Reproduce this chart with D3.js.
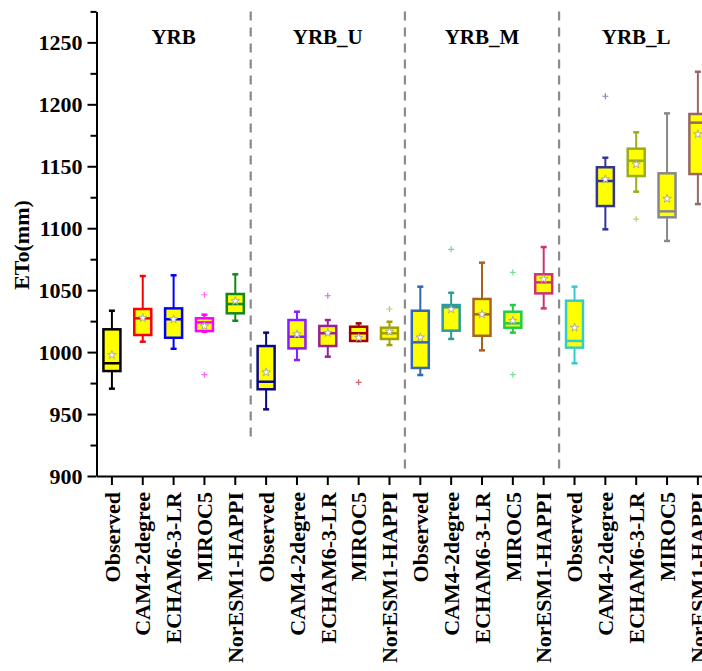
<!DOCTYPE html>
<html>
<head>
<meta charset="utf-8">
<script src="https://cdn.jsdelivr.net/npm/d3@7"></script>
<style>
    body { margin: 0; background: #fff; overflow: hidden; }
    svg { display: block; }
    svg text { font-family: "Liberation Serif", "Times New Roman", Times, "DejaVu Serif", serif !important; font-weight: bold; fill: #000; }
</style>
</head>
<body>
<svg id="chart" width="702" height="671"></svg>
<script>
// regions and models
const groups = ["YRB", "YRB_U", "YRB_M", "YRB_L"]
const models = ["Observed", "CAM4-2degree", "ECHAM6-3-LR", "MIROC5", "NorESM1-HAPPI"]

// box stats, 20 boxes in order group by group
const whiskerLow  = [970.5, 1008.4, 1002.7, 1016.5, 1025.3,  953.8, 993.6, 996.3, 1009, 1005.7,  981.5, 1010.6, 1001.4, 1015.7, 1035.3,  991, 1099.1, 1129.5, 1089.7, 1119.5]
const q1          = [984.7, 1013.8, 1011.6, 1017, 1031.3,  970, 1003, 1004.9, 1009, 1010.6,  987.2, 1017.3, 1013.2, 1019.7, 1047.4,  1003.6, 1117.9, 1142.1, 1108.8, 1143.7]
const median      = [991, 1027.3, 1026.5, 1024, 1038.8,  976.1, 1012.4, 1015.2, 1015.2, 1015.2,  1007.9, 1036.2, 1030.5, 1023.2, 1056.3,  1009, 1138.1, 1154.5, 1113.6, 1185.2]
const q3          = [1018.4, 1034.8, 1035.3, 1027.3, 1046.9,  1004.9, 1025.9, 1021.1, 1020.5, 1019.7,  1033.4, 1038, 1042.9, 1032.6, 1062.8,  1041.5, 1149.2, 1164.2, 1144.3, 1192.2]
const whiskerHigh = [1033.4, 1061.4, 1062, 1030.2, 1062.8,  1015.7, 1032.6, 1025.9, 1023.2, 1024.5,  1052.8, 1047.9, 1072.2, 1038, 1084.8,  1052.8, 1156.9, 1177.4, 1192.7, 1226.3]
const meanValue   = [997.7, 1027.5, 1026.5, 1021, 1041.2,  983.7, 1014.4, 1015.5, 1011.6, 1016.5,  1011.9, 1034.5, 1030.5, 1025.3, 1059,  1019.7, 1139.5, 1151.6, 1123.8, 1175.8]
const outliers    = [[], [], [], [1046.3, 981.8], [],  [], [], [1045.5], [975.6], [1034.8],  [], [1083], [], [1064.4, 981.8], [],  [], [1206.5], [1107.4], [], []]
const boxColors   = ["#000000", "#ff0000", "#0000ff", "#ff00ff", "#11881a",
                     "#0a0a80", "#8a1aff", "#992299", "#a00000", "#a0a000",
                     "#3366b3", "#2e9a9a", "#a8641e", "#22cc44", "#cc3377",
                     "#33cccc", "#333399", "#9aad1a", "#888888", "#996666"]
// bottom value of each dashed separator
const separatorEnd = [927, 902, 902]

const yTicks = d3.range(900, 1276, 25)

const svg = d3.select("#chart")
const keys = []
groups.forEach(g => models.forEach(m => keys.push(g + "|" + m)))

const step = 30.84
const x = d3.scaleBand().domain(keys).range([96.5, 96.5 + step * keys.length]).padding(0)
const y = d3.scaleLinear().domain([900, 1275]).range([476, 11.4])
const boxWidth = 17
const capWidth = 6
const cx = i => x(keys[i]) + x.bandwidth() / 2

// dashed separators between regions
svg.append("g")
    .selectAll("line")
    .data(separatorEnd)
    .enter()
    .append("line")
    .attr("x1", (d, i) => x(keys[(i + 1) * 5]))
    .attr("x2", (d, i) => x(keys[(i + 1) * 5]))
    .attr("y1", y(1275))
    .attr("y2", d => y(d))
    .style("stroke", "#8a8a8a")
    .style("stroke-width", 2.2)
    .style("stroke-dasharray", "9,7")

// region titles
svg.append("g")
    .selectAll("text")
    .data(groups)
    .enter()
    .append("text")
    .attr("x", (d, i) => (cx(i * 5) + cx(i * 5 + 4)) / 2)
    .attr("y", 44)
    .attr("text-anchor", "middle")
    .style("font-size", "21px")
    .text(d => d)

// boxes
const box = svg.append("g")
    .selectAll("g")
    .data(keys)
    .enter()
    .append("g")

box.append("line")
    .attr("x1", (d, i) => cx(i))
    .attr("x2", (d, i) => cx(i))
    .attr("y1", (d, i) => y(whiskerLow[i]))
    .attr("y2", (d, i) => y(whiskerHigh[i]))
    .style("stroke", (d, i) => boxColors[i])
    .style("stroke-width", 2)

box.selectAll("line.cap")
    .data((d, i) => [[i, whiskerLow[i]], [i, whiskerHigh[i]]])
    .enter()
    .append("line")
    .attr("class", "cap")
    .attr("x1", d => cx(d[0]) - capWidth / 2)
    .attr("x2", d => cx(d[0]) + capWidth / 2)
    .attr("y1", d => y(d[1]))
    .attr("y2", d => y(d[1]))
    .style("stroke", d => boxColors[d[0]])
    .style("stroke-width", 2.5)

box.append("rect")
    .attr("x", (d, i) => cx(i) - boxWidth / 2)
    .attr("y", (d, i) => y(q3[i]))
    .attr("width", boxWidth)
    .attr("height", (d, i) => Math.max(1, y(q1[i]) - y(q3[i])))
    .style("fill", "#ffff00")
    .style("stroke", (d, i) => boxColors[i])
    .style("stroke-width", 2.5)

box.append("line")
    .attr("x1", (d, i) => cx(i) - boxWidth / 2)
    .attr("x2", (d, i) => cx(i) + boxWidth / 2)
    .attr("y1", (d, i) => y(median[i]))
    .attr("y2", (d, i) => y(median[i]))
    .style("stroke", (d, i) => boxColors[i])
    .style("stroke-width", 2.5)

box.append("path")
    .attr("d", d3.symbol().type(d3.symbolStar).size(22))
    .attr("transform", (d, i) => `translate(${cx(i)},${y(meanValue[i])})`)
    .style("fill", "#ffffff")
    .style("stroke", "#9a9a9a")
    .style("stroke-width", 0.8)

box.selectAll("path.outlier")
    .data((d, i) => outliers[i].map(v => [i, v]))
    .enter()
    .append("path")
    .attr("class", "outlier")
    .attr("d", "M-3,0H3M0,-3V3")
    .attr("transform", d => `translate(${cx(d[0])},${y(d[1])})`)
    .style("stroke", d => boxColors[d[0]])
    .style("stroke-opacity", 0.6)
    .style("stroke-width", 1.2)

// y axis: minor then major
svg.append("g")
    .attr("transform", "translate(96.5,0)")
    .call(d3.axisLeft(y).tickValues(yTicks.filter(v => v % 50 !== 0)).tickSize(6).tickSizeOuter(0).tickFormat(""))
    .call(g => g.select(".domain").remove())
    .call(g => g.selectAll("line").style("stroke-width", 2))

const yAxis = svg.append("g")
    .attr("transform", "translate(96.5,0)")
    .call(d3.axisLeft(y).tickValues(yTicks.filter(v => v % 50 === 0)).tickSize(9).tickSizeOuter(0).tickPadding(5).tickFormat(d3.format("d")))
yAxis.select(".domain").style("stroke-width", 2)
yAxis.selectAll("line").style("stroke-width", 2)
yAxis.selectAll("text").style("font-size", "22px")

svg.append("text")
    .attr("transform", "translate(29,245) rotate(-90)")
    .attr("text-anchor", "middle")
    .style("font-size", "22px")
    .text("ETo(mm)")

// x axis with vertical model names
const xAxis = svg.append("g")
    .attr("transform", "translate(0,476)")
    .call(d3.axisBottom(x).tickSize(9).tickSizeOuter(0).tickFormat(d => d.split("|")[1]))
xAxis.select(".domain").style("stroke-width", 2)
xAxis.selectAll("line").style("stroke-width", 2)
xAxis.selectAll("text")
    .attr("transform", "rotate(-90)")
    .attr("x", -16)
    .attr("y", 0)
    .attr("dy", "0.35em")
    .attr("text-anchor", "end")
    .style("font-size", "22px")
</script>
</body>
</html>
